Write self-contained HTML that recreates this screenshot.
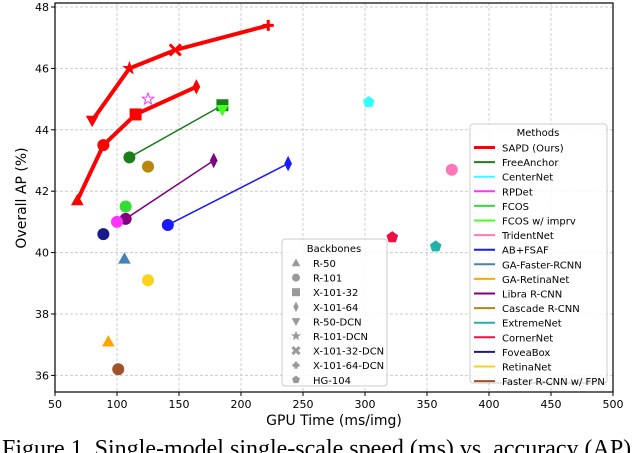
<!DOCTYPE html>
<html><head><meta charset="utf-8"><style>
html,body{margin:0;padding:0;background:#fff;width:640px;height:453px;overflow:hidden}
svg text{font-family:"DejaVu Sans","Liberation Sans",sans-serif}
</style></head><body>
<svg id="chart" width="640" height="453" xmlns="http://www.w3.org/2000/svg">
<g id="grid"></g>
<g id="axes"></g>
<g id="series"></g>
<text x="334" y="425" font-size="14" text-anchor="middle">GPU Time (ms/img)</text>
<text transform="translate(26,198) rotate(-90)" font-size="14" text-anchor="middle">Overall AP (%)</text>
<text x="2" y="456" font-size="24" style="font-family:'Liberation Serif',serif">Figure 1. Single-model single-scale speed (ms) vs. accuracy (AP)</text>
<g id="legend1"></g>
<g id="legend2"></g>
</svg>
<script>
const xTicks=[50,100,150,200,250,300,350,400,450,500];
const yTicks=[36,38,40,42,44,46,48];
const methodNames=["SAPD (Ours)","FreeAnchor","CenterNet","RPDet","FCOS","FCOS w/ imprv","TridentNet","AB+FSAF","GA-Faster-RCNN","GA-RetinaNet","Libra R-CNN","Cascade R-CNN","ExtremeNet","CornerNet","FoveaBox","RetinaNet","Faster R-CNN w/ FPN"];
const methodColors=["#ff0000","#1a7f1a","#33ffff","#ff33ff","#33dd33","#44ff22","#ff77bb","#1a1aff","#4682b4","#ffa500","#800080","#b8860b","#20b2aa","#ee1144","#1a1a8a","#ffd21a","#a0522d"];
const backboneNames=["R-50","R-101","X-101-32","X-101-64","R-50-DCN","R-101-DCN","X-101-32-DCN","X-101-64-DCN","HG-104"];
const backboneShapes=["tri","circ","sq","dia","tridown","star","x","plus","pent"];
const sapdA_t=[80,110,147,222], sapdA_ap=[44.3,46.0,46.6,47.4], sapdA_sh=["tridown","star","x","plus"];
const sapdB_t=[68,89,115,164], sapdB_ap=[41.7,43.5,44.5,45.4], sapdB_sh=["tri","circ","sq","dia"];
const freeT=[110,185], freeAP=[43.1,44.8], freeSh=["circ","sq"];
const libraT=[107,178], libraAP=[41.1,43.0], libraSh=["circ","dia"];
const fsafT=[141,238], fsafAP=[40.9,42.9], fsafSh=["circ","dia"];
const singleM=[2,3,3,4,5,6,11,12,13,14,8,15,9,16];
const singleT=[303,125,100,107,185,370,125,357,322,89,106,125,93,101];
const singleAP=[44.9,45.0,41.0,41.5,44.65,42.7,42.8,40.2,40.5,40.6,39.8,39.1,37.1,36.2];
const singleSh=["pent","star","circ","circ","tridown","circ","circ","pent","pent","circ","tri","circ","tri","circ"];

const L=55,R=613,T=3,B=392;
const X=v=>L+(v-50)*(R-L)/450;
const Y=v=>7+(48-v)*30.7;
const NS="http://www.w3.org/2000/svg";
function mk(tag,at,p){const e=document.createElementNS(NS,tag);for(const k in at)e.setAttribute(k,at[k]);p.appendChild(e);return e;}
const grid=document.getElementById('grid'),axes=document.getElementById('axes'),ser=document.getElementById('series');
xTicks.forEach(t=>{const x=X(t);
 const g=mk('line',{x1:x,x2:x,y1:T,y2:B,stroke:'#ccc','stroke-dasharray':'3,2'},grid);
 
 mk('line',{x1:x,x2:x,y1:B,y2:B+4,stroke:'#000'},axes);
 const tx=mk('text',{x:x,y:B+16,'font-size':11,'text-anchor':'middle'},axes);tx.textContent=t;
 });
yTicks.forEach(t=>{const y=Y(t);
 const g=mk('line',{x1:L,x2:R,y1:y,y2:y,stroke:'#ccc','stroke-dasharray':'3,2'},grid);
 
 mk('line',{x1:L-4,x2:L,y1:y,y2:y,stroke:'#000'},axes);
 const tx=mk('text',{x:L-6,y:y+4,'font-size':11,'text-anchor':'end'},axes);tx.textContent=t;
 });
const fr=mk('rect',{x:L,y:T,width:R-L,height:B-T,fill:'none',stroke:'#000','stroke-width':1.2},axes);


function marker(sh,x,y,c,s,p,fill){
 let e;const f=fill||c;
 if(sh==='circ')e=mk('circle',{cx:x,cy:y,r:s},p);
 else if(sh==='sq')e=mk('rect',{x:x-s,y:y-s,width:2*s,height:2*s},p);
 else if(sh==='tri')e=mk('polygon',{points:`${x},${y-s} ${x-s},${y+s*0.8} ${x+s},${y+s*0.8}`},p);
 else if(sh==='tridown')e=mk('polygon',{points:`${x},${y+s} ${x-s},${y-s*0.8} ${x+s},${y-s*0.8}`},p);
 else if(sh==='dia')e=mk('polygon',{points:`${x},${y-s*1.2} ${x-s*0.6},${y} ${x},${y+s*1.2} ${x+s*0.6},${y}`},p);
 else if(sh==='pent'){let pts=[];for(let i=0;i<5;i++){const a=-Math.PI/2+i*2*Math.PI/5;pts.push((x+s*Math.cos(a))+','+(y+s*Math.sin(a)));}e=mk('polygon',{points:pts.join(' ')},p);}
 else if(sh==='star'){let pts=[];for(let i=0;i<10;i++){const r=i%2?s*0.45:s*1.1;const a=-Math.PI/2+i*Math.PI/5;pts.push((x+r*Math.cos(a))+','+(y+r*Math.sin(a)));}e=mk('polygon',{points:pts.join(' ')},p);}
 else if(sh==='x'){e=mk('path',{d:`M${x-s},${y-s}L${x+s},${y+s}M${x-s},${y+s}L${x+s},${y-s}`,'stroke-width':3},p);e.setAttribute('stroke',c);return e;}
 else if(sh==='plus'){e=mk('path',{d:`M${x-s},${y}L${x+s},${y}M${x},${y-s}L${x},${y+s}`,'stroke-width':3},p);e.setAttribute('stroke',c);return e;}
 e.setAttribute('fill',f);e.setAttribute('stroke',c);e.setAttribute('stroke-width',1);return e;}

function drawLine(mi,ts,aps,shs,w,name){
 const g=mk('g',{},ser);
 const pl=mk('polyline',{points:ts.map((t,i)=>X(t)+','+Y(aps[i])).join(' '),fill:'none',stroke:methodColors[mi],'stroke-width':w},g);
 
 ts.forEach((t,i)=>{const m=marker(shs[i],X(t),Y(aps[i]),methodColors[mi],5.5,g);
  });}
drawLine(0,sapdA_t,sapdA_ap,sapdA_sh,4,'sapd-dcn-series');
drawLine(0,sapdB_t,sapdB_ap,sapdB_sh,4,'sapd-series');
drawLine(1,freeT,freeAP,freeSh,1.5,'freeanchor-series');
drawLine(10,libraT,libraAP,libraSh,1.5,'libra-rcnn-series');
drawLine(7,fsafT,fsafAP,fsafSh,1.5,'ab-fsaf-series');
singleT.forEach((t,i)=>{const c=methodColors[singleM[i]];
 const m=marker(singleSh[i],X(t),Y(singleAP[i]),c,5.5,ser,singleSh[i]==='star'?'#fff':c);
 
 });

const l1=document.getElementById('legend1');
mk('rect',{x:282,y:239,width:105,height:147,fill:'#fff','fill-opacity':0.85,stroke:'#ccc',rx:3},l1);
const h1=mk('text',{x:334,y:252,'font-size':10,'text-anchor':'middle'},l1);h1.textContent='Backbones';
backboneNames.forEach((n,i)=>{const y=263+i*14.6;
 const g=mk('g',{},l1);
 marker(backboneShapes[i],296,y,'#999',3.5,g);
 const t=mk('text',{x:313,y:y+4,'font-size':10},g);t.textContent=n;});
const l2=document.getElementById('legend2');
mk('rect',{x:470,y:124,width:137,height:259,fill:'#fff','fill-opacity':0.85,stroke:'#ccc',rx:3},l2);
const h2=mk('text',{x:538,y:136,'font-size':10,'text-anchor':'middle'},l2);h2.textContent='Methods';
methodNames.forEach((n,i)=>{const y=147.5+i*14.6;
 const g=mk('g',{},l2);
 mk('line',{x1:474,x2:495,y1:y,y2:y,stroke:methodColors[i],'stroke-width':i===0?3:2},g);
 const t=mk('text',{x:502,y:y+4,'font-size':10},g);t.textContent=n;});
</script>
</body></html>
